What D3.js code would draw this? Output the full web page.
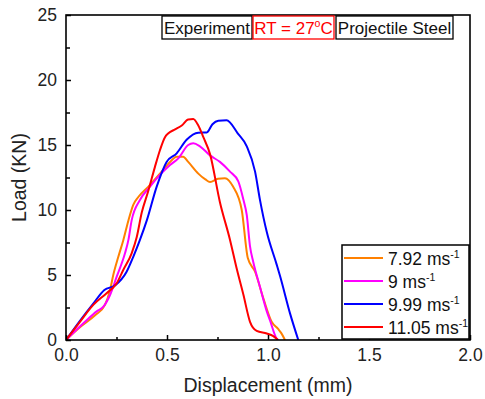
<!DOCTYPE html>
<html>
<head>
<meta charset="utf-8">
<script src="https://cdn.jsdelivr.net/npm/d3@7"></script>
<style>
  body { margin: 0; background: #fff; }
  text { font-family: "Liberation Sans", Arial, sans-serif; }
</style>
</head>
<body>
<svg id="chart"></svg>
<script>
// data: [displacement mm, load kN]
var seriesNames = ["7.92", "9", "9.99", "11.05"];
var seriesColors = ["#ff8000", "#ff00ff", "#0000ff", "#ff0000"];

var orange = [[0,0],[0.069,0.98],[0.144,1.9],[0.193,2.7],[0.218,3.85],[0.234,5.0],[0.259,6.4],
  [0.284,7.7],[0.309,9.2],[0.333,10.4],[0.358,11.0],[0.408,11.8],[0.465,12.8],[0.515,13.7],
  [0.548,14.1],[0.58,14.1],[0.605,13.7],[0.655,12.8],[0.69,12.35],[0.713,12.15],[0.752,12.4],
  [0.787,12.45],[0.827,11.8],[0.87,10.0],[0.9,6.3],[0.936,5.25],[0.977,3.2],[1.018,1.4],
  [1.05,0.85],[1.065,0.55],[1.084,0]];

var magenta = [[0,0],[0.094,1.4],[0.152,2.2],[0.185,2.56],[0.218,3.46],[0.251,4.87],[0.292,6.67],
  [0.309,7.7],[0.325,9.2],[0.366,10.77],[0.416,11.8],[0.465,12.7],[0.515,13.46],[0.556,13.97],
  [0.605,15.0],[0.63,15.13],[0.663,14.9],[0.713,14.2],[0.762,13.7],[0.812,12.95],[0.853,12.2],
  [0.878,10.8],[0.895,9.6],[0.911,7.2],[0.927,6.0],[0.96,4.1],[0.994,2.2],[1.01,1.5],
  [1.043,0.1],[1.05,0]];

var blue = [[0,0],[0.07,1.5],[0.135,2.8],[0.19,3.85],[0.243,4.2],[0.3,5.25],[0.333,6.4],
  [0.366,7.7],[0.4,9.2],[0.449,11.8],[0.498,13.7],[0.548,14.36],[0.597,15.4],[0.655,15.95],
  [0.697,15.97],[0.725,16.6],[0.754,16.87],[0.795,16.9],[0.85,15.9],[0.895,14.9],[0.936,12.95],
  [0.96,10.8],[0.994,8.3],[1.043,5.8],[1.06,4.9],[1.109,2.05],[1.15,0]];

var red = [[0,0],[0.069,1.4],[0.135,2.7],[0.201,3.6],[0.251,4.36],[0.284,5.4],[0.325,6.67],
  [0.35,7.9],[0.375,9.8],[0.408,11.5],[0.44,13.3],[0.465,14.6],[0.49,15.6],[0.507,15.9],
  [0.54,16.2],[0.573,16.5],[0.605,16.97],[0.63,17.0],[0.655,16.5],[0.68,15.6],[0.713,14.3],
  [0.762,10.6],[0.812,7.7],[0.845,5.5],[0.878,3.5],[0.911,1.4],[0.944,0.7],[0.994,0.5],
  [1.026,0.3],[1.05,0]];

var allSeries = [orange, magenta, blue, red];

var xTicks = [0, 0.5, 1.0, 1.5, 2.0];
var yTicks = [0, 5, 10, 15, 20, 25];
var tagTexts = ["Experiment", "RT = 27", "Projectile Steel"];

var W = 485, H = 399;
var margin = { top: 15, right: 15, bottom: 59, left: 66 };
var width = W - margin.left - margin.right;
var height = H - margin.top - margin.bottom;

var svg = d3.select("#chart").attr("width", W).attr("height", H);
var g = svg.append("g").attr("transform", "translate(" + margin.left + "," + margin.top + ")");

var x = d3.scaleLinear().domain([0, 2]).range([0, width]);
var y = d3.scaleLinear().domain([0, 25]).range([height, 0]);

// clip so lines stay in the frame
svg.append("defs").append("clipPath").attr("id", "clip")
  .append("rect").attr("width", width).attr("height", height);

var line = d3.line()
  .x(function (d) { return x(d[0]); })
  .y(function (d) { return y(d[1]); })
  .curve(d3.curveMonotoneX);

g.append("g").attr("clip-path", "url(#clip)")
  .selectAll("path")
  .data(allSeries)
  .enter()
  .append("path")
  .attr("d", line)
  .attr("fill", "none")
  .attr("stroke", function (d, i) { return seriesColors[i]; })
  .attr("stroke-width", 2)
  .attr("stroke-linejoin", "round");

// minor ticks (inward)
g.append("g").attr("transform", "translate(0," + height + ")")
  .call(d3.axisBottom(x).tickValues(d3.range(0.25, 2, 0.5)).tickSize(-3).tickFormat(""))
  .call(function (a) { a.select(".domain").remove(); a.selectAll("line").attr("stroke-width", 1.5); });
g.append("g")
  .call(d3.axisLeft(y).tickValues(d3.range(2.5, 25, 5)).tickSize(-4).tickFormat(""))
  .call(function (a) { a.select(".domain").remove(); a.selectAll("line").attr("stroke-width", 1.5); });

// major axes
var xAxis = g.append("g").attr("transform", "translate(0," + height + ")")
  .call(d3.axisBottom(x).tickValues(xTicks).tickSize(-5).tickPadding(9).tickFormat(d3.format(".1f")));
var yAxis = g.append("g")
  .call(d3.axisLeft(y).tickValues(yTicks).tickSize(-5).tickPadding(9));
[xAxis, yAxis].forEach(function (a) {
  a.select(".domain").remove();
  a.selectAll("line").attr("stroke-width", 1.5);
  a.selectAll("text").attr("font-size", 17.5).attr("fill", "#222")
    .attr("font-family", "Liberation Sans, Arial, sans-serif");
});

// frame
g.append("rect").attr("width", width).attr("height", height)
  .attr("fill", "none").attr("stroke", "#000").attr("stroke-width", 1.6);

// axis titles
svg.append("text").attr("x", margin.left + width / 2).attr("y", 392)
  .attr("text-anchor", "middle").attr("font-size", 19.5).attr("fill", "#222")
  .text("Displacement (mm)");
svg.append("text").attr("transform", "translate(26," + (margin.top + height / 2) + ") rotate(-90)")
  .attr("text-anchor", "middle").attr("font-size", 19.5).attr("fill", "#222")
  .text("Load (KN)");

// tag boxes at top
var tagBoxes = [[162, 252, "#000"], [253, 334, "#ff0000"], [336, 453, "#000"]];
tagBoxes.forEach(function (b, i) {
  svg.append("rect").attr("x", b[0]).attr("y", 16).attr("width", b[1] - b[0]).attr("height", 23)
    .attr("fill", "#fff").attr("stroke", b[2]).attr("stroke-width", 1.3);
  var t = svg.append("text").attr("x", (b[0] + b[1]) / 2).attr("y", 34)
    .attr("text-anchor", "middle").attr("font-size", 17).attr("fill", i === 1 ? "#ff0000" : "#111")
    .text(tagTexts[i]);
  if (i === 1) {
    t.append("tspan").attr("font-size", 10.5).attr("dy", -7).text("o");
    t.append("tspan").attr("dy", 7).text("C");
  }
});

// legend
var lg = svg.append("g").attr("transform", "translate(342,245)");
lg.append("rect").attr("width", 127).attr("height", 94)
  .attr("fill", "#fff").attr("stroke", "#000").attr("stroke-width", 1.5);
seriesNames.forEach(function (name, i) {
  var yy = 13 + i * 23;
  lg.append("line").attr("x1", 2).attr("x2", 41).attr("y1", yy).attr("y2", yy)
    .attr("stroke", seriesColors[i]).attr("stroke-width", 2);
  var t = lg.append("text").attr("x", 46).attr("y", yy + 6.5)
    .attr("font-size", 17.5).attr("fill", "#111").text(name + " ms");
  t.append("tspan").attr("font-size", 10.5).attr("dy", -7).text("-1");
});
</script>
</body>
</html>
